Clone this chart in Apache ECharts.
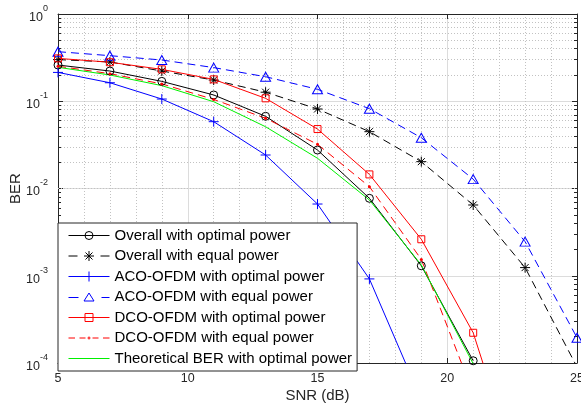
<!DOCTYPE html>
<html>
<head>
<meta charset="utf-8">
<script src="https://cdn.jsdelivr.net/npm/echarts@6/dist/echarts.min.js"></script>
<style>
  html, body { margin: 0; padding: 0; background: #fff; }
  #chart { width: 581px; height: 408px; }
</style>
</head>
<body>
<div id="chart"></div>
<script>
// SNR sample points (dB)
const snr = [5, 7, 9, 11, 13, 15, 17, 19, 21, 23, 25];

// BER curves, one value per SNR point (curves stop where they leave the axis)
const overallOptimal = [0.26, 0.222, 0.169, 0.118, 0.0672, 0.0276, 0.00772, 0.0013, 1.06e-4];
const overallEqual   = [0.30, 0.282, 0.222, 0.175, 0.127, 0.0815, 0.0448, 0.0203, 0.00647, 0.00124, 9e-5];
const acoOptimal     = [0.214, 0.163, 0.106, 0.0583, 0.0242, 0.00664, 9.2e-4, 3.8e-5];
const acoEqual       = [0.37, 0.333, 0.297, 0.243, 0.191, 0.137, 0.0822, 0.0382, 0.0128, 0.00246, 1.95e-4];
const dcoOptimal     = [0.31, 0.28, 0.232, 0.178, 0.108, 0.048, 0.0145, 0.00262, 2.22e-4, 3.1e-6];
const dcoEqual       = [0.252, 0.207, 0.158, 0.105, 0.0638, 0.0321, 0.0105, 0.00154, 4.5e-5];
const theoretical    = [0.245, 0.2, 0.151, 0.0988, 0.051, 0.0222, 0.00738, 0.00133, 9.8e-5];

const seriesNames = [
  'Overall with optimal power',
  'Overall with equal power',
  'ACO-OFDM with optimal power',
  'ACO-OFDM with equal power',
  'DCO-OFDM with optimal power',
  'DCO-OFDM with equal power',
  'Theoretical BER with optimal power'
];

// axis ranges and minor log grid positions
const snrRange = [5, 25];
const berRange = [1e-4, 1];
const minorMantissas = [2, 3, 4, 5, 6, 7, 8, 9];
const minorDecades = [-4, -3, -2, -1];

const FONT = '"Liberation Sans", Arial, Helvetica, sans-serif';
const AXIS = '#262626';
const BLACK = '#000000', BLUE = '#0000ff', RED = '#ff0000', GREEN = '#00f000';

const pairs = vals => vals.map((v, i) => [snr[i], v]);

// minor (log) grid positions
const minorVals = [];
minorDecades.forEach(k => minorMantissas.forEach(m => minorVals.push(m * Math.pow(10, k))));

// short inward minor ticks on left and right edges, in data units
const plotWidthPx = 581 - 58 - 4;
const tickLen = 3 * (snrRange[1] - snrRange[0]) / plotWidthPx;
const minorLines = minorVals.map(v => ({ yAxis: v }));
const minorTicks = [];
minorVals.forEach(v => {
  minorTicks.push([{ coord: [snrRange[0], v] }, { coord: [snrRange[0] + tickLen, v] }]);
  minorTicks.push([{ coord: [snrRange[1] - tickLen, v] }, { coord: [snrRange[1], v] }]);
});

// marker shapes
const PLUS = 'path://M0,5L10,5M5,0L5,10';
const STAR = 'path://M5,0L5,10M0,5L10,5M1.5,1.5L8.5,8.5M1.5,8.5L8.5,1.5';

// legend icons: line sample with marker, 41 units wide
const CIRC = 'M24.5,0A4,4,0,1,1,16.5,0A4,4,0,1,1,24.5,0Z';
const icons = [
  'path://M0,0L41,0' + CIRC,
  'path://M0,0L9,0M32,0L41,0M20.5,-5L20.5,5M15.5,0L25.5,0M17,-3.5L24,3.5M17,3.5L24,-3.5',
  'path://M0,0L41,0M20.5,-5L20.5,5',
  'path://M0,0L10,0M33,0L41,0M20.5,-4.5L25.5,3.5L15.5,3.5Z',
  'path://M0,0L41,0M16.5,-4L24.5,-4L24.5,4L16.5,4Z',
  'path://M0,0L6.5,0M11,0L17,0M24,0L30,0M34.5,0L41,0M21.5,0A1,1,0,1,1,19.5,0A1,1,0,1,1,21.5,0Z',
  'path://M0,-0.5L41,-0.5L41,0.5L0,0.5Z'
];
const iconColors = [BLACK, BLACK, BLUE, BLUE, RED, RED, GREEN];

function lineSeries(idx, vals, color, dashed, symbol, size, filled) {
  return {
    name: seriesNames[idx],
    type: 'line',
    data: pairs(vals),
    symbol: symbol,
    symbolSize: size,
    showSymbol: symbol !== 'none',
    clip: true,
    z: 3,
    lineStyle: { color: color, width: 1, type: dashed ? [8, 5] : 'solid' },
    itemStyle: filled
      ? { color: color, borderWidth: 0 }
      : { color: 'rgba(0,0,0,0)', borderColor: color, borderWidth: 1 },
    emphasis: { disabled: true }
  };
}

const axisLineStyle = { color: AXIS, width: 1 };

const option = {
  animation: false,
  backgroundColor: '#ffffff',
  textStyle: { fontFamily: FONT },
  grid: { left: 58, right: 4, top: 14, bottom: 45, containLabel: false, outerBoundsMode: 'none' },
  legend: {
    orient: 'vertical',
    left: 58,
    top: 223,
    padding: [5, 5, 5, 8],
    itemWidth: 41,
    itemHeight: 14,
    itemGap: 5.5,
    backgroundColor: '#ffffff',
    borderColor: AXIS,
    borderWidth: 1,
    borderRadius: 0,
    selectedMode: false,
    textStyle: { fontSize: 15, color: '#000', fontFamily: FONT },
    data: seriesNames.map((n, i) => ({
      name: n,
      icon: icons[i],
      itemStyle: i === 6
        ? { color: iconColors[i], borderColor: iconColors[i], borderWidth: 0, opacity: 1 }
        : { color: 'none', borderColor: iconColors[i], borderWidth: 1, opacity: 1 }
    }))
  },
  xAxis: [
    {
      type: 'value', min: snrRange[0], max: snrRange[1], interval: 5, position: 'bottom',
      name: 'SNR (dB)', nameLocation: 'middle', nameGap: 25, nameMoveOverlap: false,
      nameTextStyle: { fontSize: 15, color: AXIS, fontFamily: FONT },
      axisLine: { show: true, onZero: false, lineStyle: axisLineStyle },
      axisTick: { show: true, inside: true, length: 5, lineStyle: axisLineStyle },
      axisLabel: { fontSize: 12.5, color: AXIS, margin: 9, fontFamily: FONT },
      splitLine: { show: true, lineStyle: { color: '#dcdcdc', width: 1 } },
      minorTick: { show: false, splitNumber: 5 },
      minorSplitLine: { show: true, lineStyle: { color: '#c2c2c2', width: 1, type: [1, 2] } }
    },
    {
      type: 'value', min: snrRange[0], max: snrRange[1], interval: 5, position: 'top',
      axisLine: { show: true, onZero: false, lineStyle: axisLineStyle },
      axisTick: { show: true, inside: true, length: 5, lineStyle: axisLineStyle },
      axisLabel: { show: false },
      splitLine: { show: false }
    }
  ],
  yAxis: [
    {
      type: 'log', logBase: 10, min: berRange[0], max: berRange[1], position: 'left',
      name: 'BER', nameLocation: 'middle', nameGap: 35, nameRotate: 90, nameMoveOverlap: false,
      nameTextStyle: { fontSize: 15, color: AXIS, fontFamily: FONT },
      axisLine: { show: true, onZero: false, lineStyle: axisLineStyle },
      axisTick: { show: true, inside: true, length: 5, lineStyle: axisLineStyle },
      axisLabel: {
        margin: 10,
        formatter: v => '{b|10}{s|' + Math.round(Math.log10(v)) + '}',
        rich: {
          b: { fontSize: 12.5, color: AXIS, fontFamily: FONT, lineHeight: 20, verticalAlign: 'bottom' },
          s: { fontSize: 9, color: AXIS, fontFamily: FONT, lineHeight: 20, verticalAlign: 'top' }
        }
      },
      splitLine: { show: true, lineStyle: { color: '#dcdcdc', width: 1 } }
    },
    {
      type: 'log', logBase: 10, min: berRange[0], max: berRange[1], position: 'right',
      axisLine: { show: true, onZero: false, lineStyle: axisLineStyle },
      axisTick: { show: true, inside: true, length: 5, lineStyle: axisLineStyle },
      axisLabel: { show: false },
      splitLine: { show: false }
    }
  ],
  series: [
    {
      name: 'minor-grid',
      type: 'line',
      data: [],
      silent: true,
      z: 1,
      markLine: {
        silent: true,
        z: 1,
        symbol: ['none', 'none'],
        label: { show: false },
        emphasis: { disabled: true },
        lineStyle: { color: '#c2c2c2', width: 1, type: [1, 2] },
        data: minorLines.concat(minorTicks.map(seg => [
          Object.assign({}, seg[0], { lineStyle: { color: AXIS, width: 1, type: 'solid' } }),
          seg[1]
        ]))
      }
    },
    lineSeries(0, overallOptimal, BLACK, false, 'circle', 8, false),
    lineSeries(1, overallEqual, BLACK, true, STAR, 10, false),
    lineSeries(2, acoOptimal, BLUE, false, PLUS, 10, false),
    lineSeries(3, acoEqual, BLUE, true, 'triangle', [10, 9], false),
    lineSeries(4, dcoOptimal, RED, false, 'rect', 7, false),
    lineSeries(5, dcoEqual, RED, true, 'circle', 3, true),
    lineSeries(6, theoretical, GREEN, false, 'none', 0, false)
  ]
};

const chart = echarts.init(document.getElementById('chart'), null, { renderer: 'canvas' });
chart.setOption(option);
</script>
</body>
</html>
